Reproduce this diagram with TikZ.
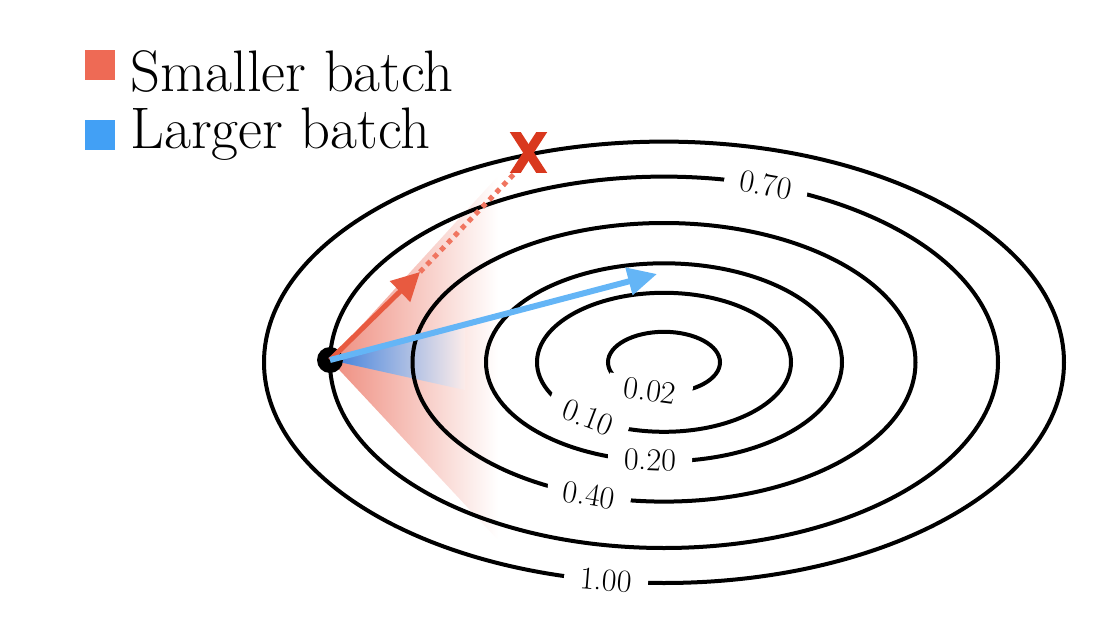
\documentclass[tikz,border=0pt]{standalone}
\usetikzlibrary{arrows.meta}
\definecolor{legred}{HTML}{EE6A55}
\definecolor{legblue}{HTML}{42A0F5}
\definecolor{arrred}{HTML}{E85A40}
\definecolor{dotred}{HTML}{F07560}
\definecolor{xred}{HTML}{D9381E}
\definecolor{arrblue}{HTML}{64B5F6}
\definecolor{fanred}{HTML}{E8604C}
\definecolor{fanblue}{HTML}{3C7EDB}
\begin{document}
\begin{tikzpicture}[x=0.5pt,y=-0.5pt,
  contour/.style={line width=2pt, black},
  lvlgap/.style={fill=white, inner xsep=8pt, inner ysep=1pt, font=\fontsize{16}{18}\selectfont},
  lvl/.style={inner sep=1pt, font=\fontsize{16}{18}\selectfont},
  legbox/.style={minimum size=15pt, inner sep=0pt},
  legtext/.style={anchor=base west, inner sep=0pt, font=\fontsize{29.3}{34}\selectfont},
  redarrow/.style={arrred, line width=2.5pt, -{Triangle[length=14pt,width=14pt]}},
  bluearrow/.style={arrblue, line width=3pt, -{Triangle[length=14.5pt,width=13.5pt]}},
  reddots/.style={dotred, line width=2.5pt, dash pattern=on 2.5pt off 2.5pt},
  xmark/.style={xred, line width=4.6pt, shorten <=-4pt, shorten >=-4pt},
  redfan/.style={left color=fanred!72!white, right color=white},
  bluefan/.style={left color=fanblue, right color=fanred!12!white},
]
\useasboundingbox (0,0) rectangle (1116,632);

% start point (position only)
\coordinate (start) at (330,360);

% fans
\shade[redfan] (start) -- (498,176) -- (498,540) -- cycle;
\shade[bluefan] (start) -- (465,326) -- (465,390) -- cycle;

% contours
\coordinate (c) at (664,362.3);
\draw[contour] (c) ellipse [x radius=400, y radius=220.7];
\draw[contour] (c) ellipse [x radius=334, y radius=185.7];
\draw[contour] (c) ellipse [x radius=251.5, y radius=139.3];
\draw[contour] (c) ellipse [x radius=178, y radius=99];
\draw[contour] (c) ellipse [x radius=127, y radius=69.5];
\draw[contour] (c) ellipse [x radius=56, y radius=30.5];

% gaps in the contours
\node[lvlgap, rotate=-8] (g002) at (650,391) {\phantom{0.02}};
\node[lvlgap, rotate=-21] (g010) at (588,417.5) {\phantom{0.10}};
\node[lvlgap, rotate=-2.5] (g020) at (650,460) {\phantom{0.20}};
\node[lvlgap, rotate=-9] (g040) at (589,495) {\phantom{0.40}};
\node[lvlgap, rotate=-10] (g070) at (766,185) {\phantom{0.70}};
\node[lvlgap, rotate=-4.6] (g100) at (606,580.5) {\phantom{1.00}};

% level labels
\node[lvl, rotate=-8] (l002) at (g002) {0.02};
\node[lvl, rotate=-21] (l010) at (g010) {0.10};
\node[lvl, rotate=-2.5] (l020) at (g020) {0.20};
\node[lvl, rotate=-9] (l040) at (g040) {0.40};
\node[lvl, rotate=-10] (l070) at (g070) {0.70};
\node[lvl, rotate=-4.6] (l100) at (g100) {1.00};

% start dot
\node[circle, fill=black, minimum size=13pt, inner sep=0pt] (dot) at (start) {};

% arrows
\coordinate (tipR) at (420,272);
\coordinate (tipB) at (657,274);
\node[minimum width=12.5pt, minimum height=19.5pt, inner sep=0pt] (X) at (528.5,152.5) {};
\draw[reddots] (tipR) -- (X.south west);
\draw[redarrow] (dot.center) -- (tipR);
\draw[bluearrow] (dot.center) -- (tipB);
\begin{scope}
  \clip ([xshift=-5pt]X.north west) rectangle ([xshift=5pt]X.south east);
  \draw[xmark] (X.north west) -- (X.south east);
  \draw[xmark] (X.north east) -- (X.south west);
\end{scope}

% legend
\node[legbox, fill=legred] (sqR) at (100,65) {};
\node[legbox, fill=legblue] (sqB) at (100,134.5) {};
\node[legtext] (txtR) at (130,91) {Smaller batch};
\node[legtext] (txtB) at (130,148) {Larger batch};
\end{tikzpicture}
\end{document}
